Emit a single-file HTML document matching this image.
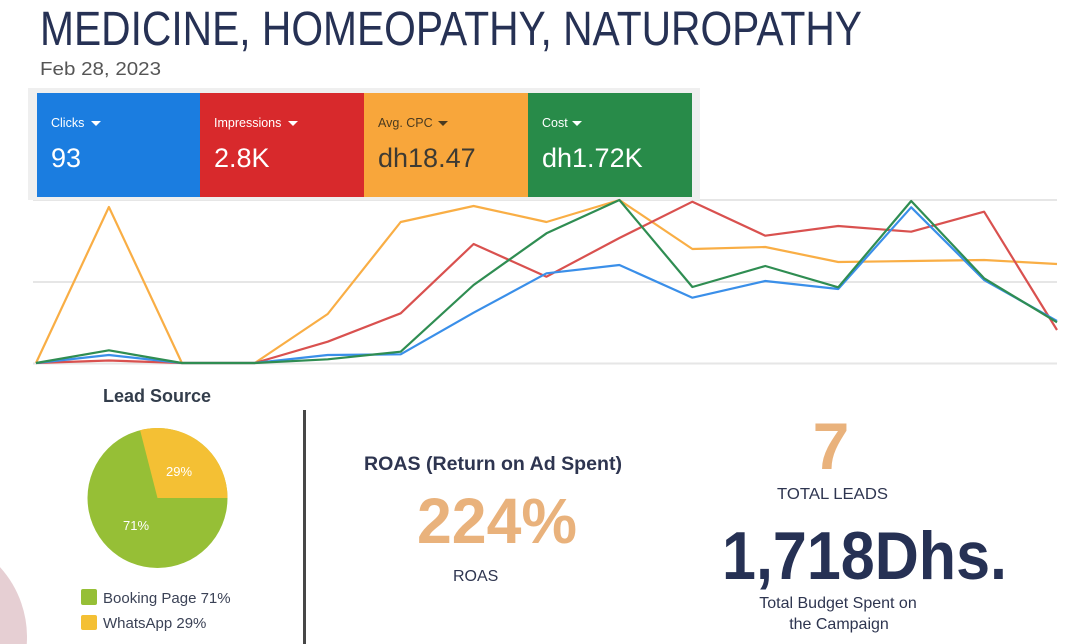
<!DOCTYPE html>
<html><head><meta charset="utf-8"><style>
html,body{margin:0;padding:0;background:#fff;width:1074px;height:644px;overflow:hidden;}
svg{display:block;}
text{font-family:"Liberation Sans",sans-serif;}
</style></head><body>
<svg width="1074" height="644" viewBox="0 0 1074 644" xmlns="http://www.w3.org/2000/svg" style="display:block">
<rect width="1074" height="644" fill="#fff"/>
<!-- pink circle segment (clipped to frame) -->
<path d="M0,567.1 A104,104 0 0 1 26.76,644 L0,644 Z" fill="#e6cfd3"/>
<!-- title -->
<text x="40" y="45" font-size="48" fill="#263154" textLength="822" lengthAdjust="spacingAndGlyphs">MEDICINE, HOMEOPATHY, NATUROPATHY</text>
<text x="40" y="75" font-size="18" fill="#555" textLength="121" lengthAdjust="spacingAndGlyphs">Feb 28, 2023</text>

<!-- chart gridlines -->
<g stroke="#e6e6e6" stroke-width="2">
<line x1="33" y1="200" x2="1057" y2="200"/>
<line x1="33" y1="282" x2="1057" y2="282"/>
<line x1="33" y1="363.5" x2="1057" y2="363.5"/>
</g>

<!-- cards backdrop -->
<rect x="28" y="88" width="672" height="112" fill="#efefef"/>
<rect x="37" y="93" width="163" height="104" fill="#1b7de0"/>
<rect x="200" y="93" width="164" height="104" fill="#d8292c"/>
<rect x="364" y="93" width="164" height="104" fill="#f8a63b"/>
<rect x="528" y="93" width="164" height="104" fill="#288b49"/>

<g font-size="12.5">
<text x="51" y="127" fill="#fff">Clicks</text>
<text x="214" y="127" fill="#fff">Impressions</text>
<text x="378" y="127" fill="#4a3a20">Avg. CPC</text>
<text x="542" y="127" fill="#fff">Cost</text>
</g>
<g>
<polygon points="91,121 101,121 96,126" fill="#fff"/>
<polygon points="288,121 298,121 293,126" fill="#fff"/>
<polygon points="438,121 448,121 443,126" fill="#4a3a20"/>
<polygon points="572,121 582,121 577,126" fill="#fff"/>
</g>
<g font-size="27">
<text x="51" y="167" fill="#fff">93</text>
<text x="214" y="167" fill="#fff">2.8K</text>
<text x="378" y="167" fill="#3d3a33">dh18.47</text>
<text x="542" y="167" fill="#fff">dh1.72K</text>
</g>

<!-- series -->
<g fill="none" stroke-width="2.2" stroke-linejoin="round">
<polyline stroke="#f9ae45" points="36,363 108.9,207 181.9,363 254.8,363 327.7,314 400.7,222 473.6,206 546.5,222 619.4,200 692.4,249 765.3,247 838.2,262 911.2,261 984.1,260 1057,264"/>
<polyline stroke="#d9514f" points="36,363 108.9,360.5 181.9,363 254.8,363 327.7,341.7 400.7,313.3 473.6,244 546.5,276.7 619.4,238 692.4,201.7 765.3,235.7 838.2,226 911.2,231.7 984.1,211.7 1057,330"/>
<polyline stroke="#3a8fe9" points="36,363 108.9,355 181.9,363 254.8,363 327.7,355 400.7,354.3 473.6,312.7 546.5,273.3 619.4,265 692.4,297.7 765.3,281 838.2,289 911.2,207.3 984.1,280 1057,321"/>
<polyline stroke="#2f8d52" points="36,363 108.9,350.3 181.9,363 254.8,363 327.7,359.3 400.7,351.7 473.6,285 546.5,233.3 619.4,200 692.4,287 765.3,266 838.2,287.3 911.2,201 984.1,278.3 1057,322.3"/>
</g>

<!-- Lead source -->
<text x="157" y="402" font-size="18" font-weight="bold" fill="#333d4b" text-anchor="middle">Lead Source</text>
<circle cx="157.5" cy="498" r="70" fill="#96bf36"/>
<path d="M157.5,498 L140.1,430.2 A70,70 0 0 1 227.5,498 Z" fill="#f4c034"/>
<text x="179" y="476" font-size="13" fill="#fff" text-anchor="middle">29%</text>
<text x="136" y="530" font-size="13" fill="#fff" text-anchor="middle">71%</text>
<rect x="81" y="589" width="16" height="16" rx="2" fill="#96bf36"/>
<rect x="81" y="615" width="16" height="15" rx="2" fill="#f4c034"/>
<text x="103" y="603" font-size="15" fill="#3b4256">Booking Page 71%</text>
<text x="103" y="628" font-size="15" fill="#3b4256">WhatsApp 29%</text>

<!-- divider -->
<rect x="303" y="410" width="3" height="234" fill="#474747"/>

<!-- ROAS -->
<text x="364" y="470" font-size="19" font-weight="bold" fill="#2e3550" textLength="258" lengthAdjust="spacingAndGlyphs">ROAS (Return on Ad Spent)</text>
<text x="417" y="543" font-size="64" font-weight="bold" fill="#e9b27c" textLength="160" lengthAdjust="spacingAndGlyphs">224%</text>
<text x="453" y="581" font-size="16" fill="#2e3550">ROAS</text>

<!-- totals -->
<text x="831" y="469" font-size="66" font-weight="bold" fill="#e9b27c" text-anchor="middle">7</text>
<text x="777" y="499" font-size="16" fill="#2e3550" textLength="111" lengthAdjust="spacingAndGlyphs">TOTAL LEADS</text>
<text x="722" y="579" font-size="68" font-weight="bold" fill="#263154" textLength="285" lengthAdjust="spacingAndGlyphs">1,718Dhs.</text>
<text x="838" y="608" font-size="16" fill="#2e3550" text-anchor="middle">Total Budget Spent on</text>
<text x="839" y="629" font-size="16" fill="#2e3550" text-anchor="middle">the Campaign</text>
</svg>
</body></html>
